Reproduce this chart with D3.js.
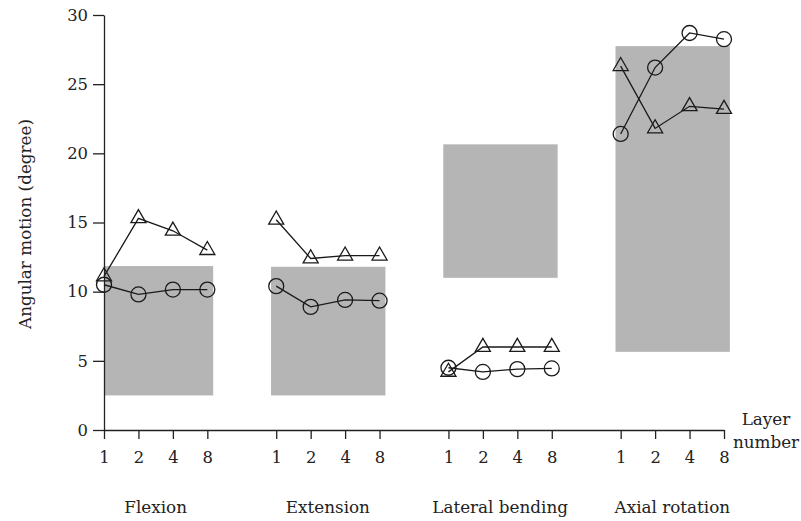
<!DOCTYPE html>
<html>
<head>
  <meta charset="utf-8">
  <style type="text/css">
  body {
    margin: 0;
    background: #fff;
  }
  svg text {
    font-family: "DejaVu Serif", serif;
    font-size: 16.8px;
    fill: #222;
  }
  .axis path, .axis line {
    stroke: #222;
    stroke-width: 1.3px;
  }
  .axis text {
    font-family: "DejaVu Serif", serif;
    font-size: 16.4px;
    fill: #222;
  }
  .series path.link {
    fill: none;
    stroke: #1a1a1a;
    stroke-width: 1.3px;
  }
  .series .mark {
    fill: none;
    stroke: #1a1a1a;
    stroke-width: 1.3px;
  }
  .range-box {
    fill: #b5b5b5;
  }
  </style>
</head>
<body>
  <script src="https://d3js.org/d3.v7.min.js"></script>
  <script>
    // motion types along the x axis, each with layer counts 1, 2, 4, 8
    var groups = ["Flexion", "Extension", "Lateral bending", "Axial rotation"];
    var layers = [1, 2, 4, 8];
    var yTicks = [0, 5, 10, 15, 20, 25, 30];

    // triangle series, one row per motion
    var triangleValues = [
      [11.1, 15.3, 14.4, 13.0],
      [15.2, 12.4, 12.6, 12.6],
      [4.2, 6.0, 6.0, 6.0],
      [26.3, 21.8, 23.4, 23.2]
    ];
    // circle series
    var circleValues = [
      [10.5, 9.8, 10.15, 10.15],
      [10.4, 8.9, 9.4, 9.35],
      [4.5, 4.2, 4.4, 4.45],
      [21.4, 26.2, 28.7, 28.25]
    ];
    // gray reference ranges (low, high)
    var rangeLow = [2.5, 2.5, 11.0, 5.65];
    var rangeHigh = [11.85, 11.8, 20.65, 27.75];

    var width = 801, height = 521;

    // each group takes 4 slots plus one empty slot between groups
    function slot(g, i) { return g * 5 + i; }

    var x = d3.scaleLinear()
        .domain([0, 18])
        .range([104, 724]);
    var y = d3.scaleLinear()
        .domain([0, 30])
        .range([430, 15]);

    var svg = d3.select("body").append("svg")
        .attr("width", width)
        .attr("height", height);

    // gray boxes
    function boxLeft(g) { return Math.max(x(0), x(slot(g, 0) - 0.15)); }
    svg.selectAll(".range-box")
        .data(groups)
      .enter()
        .append("rect")
        .attr("class", "range-box")
        .attr("x", function(d, g) { return boxLeft(g); })
        .attr("width", function(d, g) { return x(slot(g, 3) + 0.17) - boxLeft(g); })
        .attr("y", function(d, g) { return y(rangeHigh[g]); })
        .attr("height", function(d, g) { return y(rangeLow[g]) - y(rangeHigh[g]); });

    // axes
    var tickPositions = [];
    var tickLabels = [];
    groups.forEach(function(d, g) {
      layers.forEach(function(l, i) {
        tickPositions.push(slot(g, i));
        tickLabels.push(l);
      });
    });

    var xAxis = d3.axisBottom(x)
        .tickValues(tickPositions)
        .tickFormat(function(d, i) { return tickLabels[i]; })
        .tickSize(9)
        .tickSizeOuter(0)
        .tickPadding(12);
    var yAxis = d3.axisLeft(y)
        .tickValues(yTicks)
        .tickSize(11)
        .tickSizeOuter(0)
        .tickPadding(5);

    svg.append("g")
        .attr("class", "x axis")
        .attr("transform", "translate(0," + y(0) + ")")
        .call(xAxis);
    svg.append("g")
        .attr("class", "y axis")
        .attr("transform", "translate(" + x(0) + ",0)")
        .call(yAxis);

    // series
    var line = d3.line()
        .x(function(d) { return x(d.pos); })
        .y(function(d) { return y(d.v); });

    function toPoints(values, g) {
      return values.map(function(v, i) { return { pos: slot(g, i), v: v }; });
    }

    var triangle = d3.symbol().type(d3.symbolTriangle).size(98);

    groups.forEach(function(name, g) {
      var tri = toPoints(triangleValues[g], g);
      var cir = toPoints(circleValues[g], g);
      var grp = svg.append("g").attr("class", "series");

      grp.append("path").attr("class", "link").attr("d", line(tri));
      grp.append("path").attr("class", "link").attr("d", line(cir));

      grp.selectAll(".tri")
          .data(tri)
        .enter()
          .append("path")
          .attr("class", "mark tri")
          .attr("d", triangle)
          .attr("transform", function(d) { return "translate(" + x(d.pos) + "," + y(d.v) + ")"; });
      grp.selectAll(".cir")
          .data(cir)
        .enter()
          .append("circle")
          .attr("class", "mark cir")
          .attr("r", 7.5)
          .attr("cx", function(d) { return x(d.pos); })
          .attr("cy", function(d) { return y(d.v); });
    });

    // group names
    svg.selectAll(".group-label")
        .data(groups)
      .enter()
        .append("text")
        .attr("class", "group-label")
        .attr("text-anchor", "middle")
        .attr("x", function(d, g) { return x(slot(g, 1.5)); })
        .attr("y", 513)
        .text(function(d) { return d; });

    // axis titles
    svg.append("text")
        .attr("text-anchor", "middle")
        .attr("transform", "translate(31,224) rotate(-90)")
        .text("Angular motion (degree)");

    var layerTitle = svg.append("text")
        .attr("text-anchor", "middle");
    layerTitle.append("tspan").attr("x", 766).attr("y", 425).text("Layer");
    layerTitle.append("tspan").attr("x", 766).attr("y", 448).text("number");
  </script>
</body>
</html>
